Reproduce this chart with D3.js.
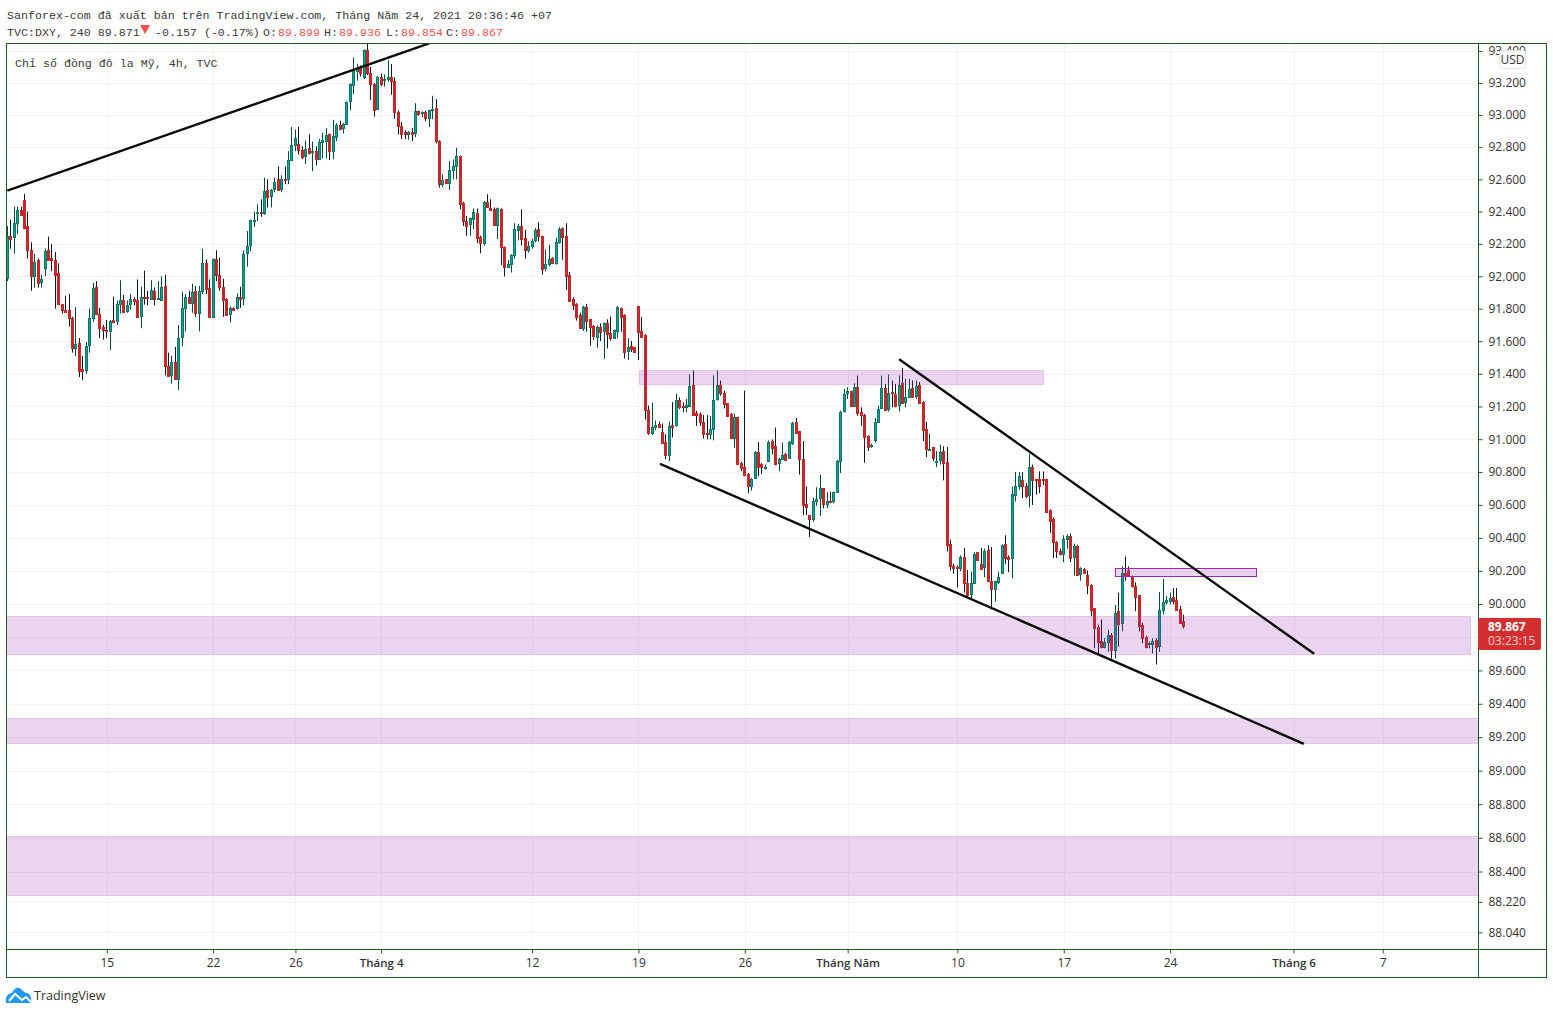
<!DOCTYPE html>
<html>
<head>
<meta charset="utf-8">
<script src="https://cdn.jsdelivr.net/npm/d3@7"></script>
<style>
body { margin: 0; background: #fff; }
svg { display: block; }
.mono { font-family: "Liberation Mono", monospace; font-size: 11.65px; fill: #3a3a3a; }
.axis text { font-family: "Open Sans", sans-serif; font-size: 12px; fill: #333; }
</style>
</head>
<body>
<svg id="chart" width="1553" height="1014"></svg>
<script>
const marchBars = [
[91.99,92.31,91.97,92.25],[92.25,92.35,92.17,92.23],[92.24,92.43,92.14,92.33],[92.33,92.43,92.26,92.41],[92.41,92.43,92.38,92.38],
[92.47,92.51,92.29,92.30],[92.31,92.40,92.11,92.16],[92.16,92.21,91.91,92.00],[92.00,92.14,91.93,92.09],[92.10,92.11,91.93,91.96],
[91.965,92.01,91.93,91.98],[92.05,92.17,92.00,92.155],[92.16,92.245,92.10,92.10],[92.11,92.20,92.03,92.10],[92.10,92.15,91.80,92.01],
[92.02,92.08,91.83,91.83],[91.83,91.83,91.77,91.79],[91.79,91.88,91.775,91.78],[91.79,91.89,91.69,91.74],[91.745,91.75,91.53,91.56],
[91.56,91.81,91.51,91.585],[91.59,91.62,91.38,91.42],[91.43,91.51,91.36,91.42],[91.425,91.595,91.40,91.57],[91.575,91.80,91.53,91.74],
[91.74,91.96,91.72,91.93],[91.935,91.97,91.76,91.77],[91.77,91.805,91.62,91.68],[91.69,91.70,91.61,91.67],[91.67,91.73,91.62,91.66],
[91.66,91.73,91.545,91.725],[91.73,91.875,91.71,91.72],[91.725,91.85,91.70,91.83],[91.83,91.975,91.77,91.855],[91.855,91.885,91.775,91.78],
[91.785,91.85,91.775,91.82],[91.83,91.89,91.795,91.86],[91.86,91.87,91.82,91.85],[91.855,91.98,91.745,91.75],[91.755,91.935,91.68,91.87],
[91.875,92.035,91.825,91.865],[91.875,91.91,91.82,91.87],[91.86,91.975,91.855,91.915],[91.91,91.93,91.82,91.86],[91.86,91.97,91.855,91.865],
[91.855,92.00,91.85,91.935],[91.94,92.01,91.39,91.445],[91.45,91.53,91.385,91.385],[91.395,91.51,91.34,91.475],[91.475,91.565,91.365,91.37],
[91.37,91.70,91.30,91.62],[91.625,91.905,91.57,91.805],[91.805,91.89,91.66,91.87],[91.87,91.91,91.83,91.835],[91.835,91.955,91.775,91.905],
[91.91,91.94,91.75,91.775],[91.775,91.94,91.66,91.91],[91.91,92.17,91.89,92.08],[92.08,92.105,91.89,91.92],[91.925,91.98,91.745,91.75],
[91.75,92.11,91.745,92.105],[92.105,92.16,91.97,92.01],[92.01,92.115,91.91,91.935],[91.935,91.985,91.75,91.855],[91.86,91.865,91.76,91.76],
[91.765,91.815,91.715,91.805],[91.805,91.81,91.785,91.79],[91.805,91.895,91.795,91.87],[91.87,91.935,91.805,91.86],[91.865,92.16,91.82,92.14],
[92.145,92.28,92.06,92.185],[92.19,92.35,92.155,92.345],[92.345,92.40,92.305,92.35],[92.39,92.445,92.34,92.40],[92.40,92.476,92.367,92.39],
[92.39,92.61,92.38,92.53],[92.535,92.60,92.425,92.49],[92.495,92.54,92.425,92.535],[92.54,92.61,92.52,92.585],[92.605,92.68,92.53,92.535],
[92.54,92.625,92.52,92.605],[92.605,92.68,92.57,92.595],[92.605,92.775,92.57,92.72],[92.72,92.925,92.72,92.815],[92.815,92.91,92.775,92.855],
[92.82,92.925,92.755,92.78],[92.785,92.805,92.725,92.74],[92.745,92.84,92.695,92.79],[92.795,92.88,92.755,92.765],[92.77,92.835,92.65,92.775],
[92.777,92.805,92.686,92.725],[92.725,92.85,92.725,92.835],[92.835,92.89,92.73,92.845],[92.837,92.92,92.73,92.876],[92.882,92.885,92.72,92.775],
[92.775,92.97,92.725,92.87],[92.862,92.95,92.837,92.938],[92.938,92.965,92.905,92.911],[92.917,92.95,92.885,92.946],[92.942,93.085,92.94,93.08],
[93.085,93.198,93.03,93.192],[93.19,93.36,93.13,93.274],[93.274,93.32,93.215,93.295],[93.303,93.31,93.24,93.262],[93.24,93.41,93.225,93.404],
[93.408,93.445,93.25,93.26],[93.26,93.30,93.095,93.196],[93.196,93.2,92.99,93.03]
];
const aprilBars = [
[93.035,93.243,93.03,93.237],[93.235,93.26,93.18,93.196],[93.216,93.254,93.177,93.227],[93.227,93.342,93.208,93.235],[93.235,93.318,93.126,93.21],
[93.21,93.235,92.977,93.016],[93.016,93.029,92.878,92.93],[92.932,92.957,92.85,92.88],[92.895,92.905,92.85,92.88],[92.88,92.90,92.847,92.895],
[92.895,92.92,92.837,92.88],[92.886,93.074,92.862,93.025],[93.025,93.029,92.996,93.004],[93.012,93.023,92.988,93.019],[93.019,93.027,92.96,92.981],
[92.979,93.033,92.924,93.031],[93.029,93.12,92.975,93.037],[93.043,93.099,92.823,92.837],[92.839,92.843,92.548,92.571],[92.571,92.631,92.553,92.598],
[92.60,92.60,92.575,92.577],[92.577,92.713,92.534,92.66],[92.658,92.724,92.60,92.685],[92.682,92.796,92.60,92.746],[92.746,92.748,92.414,92.447],
[92.45,92.46,92.311,92.342],[92.344,92.373,92.25,92.311],[92.322,92.363,92.25,92.357],[92.353,92.419,92.29,92.398],[92.394,92.419,92.204,92.235],
[92.245,92.25,92.142,92.204],[92.204,92.466,92.188,92.462],[92.462,92.507,92.425,92.429],[92.425,92.476,92.404,92.408],[92.414,92.425,92.311,92.317],
[92.317,92.425,92.229,92.419],[92.416,92.42,92.07,92.178],[92.18,92.184,91.999,92.06],[92.06,92.10,92.054,92.077],[92.073,92.136,92.023,92.132],
[92.13,92.328,92.108,92.293],[92.287,92.324,92.221,92.311],[92.311,92.414,92.19,92.231],[92.237,92.287,92.108,92.163],[92.163,92.215,92.147,92.188],
[92.188,92.231,92.17,92.219],[92.221,92.297,92.209,92.287],[92.293,92.334,92.215,92.246],[92.25,92.25,92.009,92.046],[92.052,92.167,92.03,92.077],
[92.077,92.194,92.06,92.108],[92.114,92.118,92.077,92.081],[92.079,92.239,92.071,92.213],[92.209,92.303,92.20,92.293],[92.297,92.301,92.102,92.241],
[92.25,92.328,91.916,92.003],[92.009,92.027,91.848,91.85],[91.861,91.871,91.793,91.824],[91.83,91.834,91.727,91.752],[91.762,91.776,91.682,91.682],
[91.682,91.818,91.663,91.811],[91.811,91.83,91.659,91.727],[91.735,91.735,91.571,91.69],[91.694,91.70,91.608,91.632],[91.628,91.696,91.56,91.688],
[91.688,91.71,91.601,91.659],[91.663,91.715,91.492,91.71],[91.71,91.735,91.556,91.645],[91.649,91.752,91.604,91.62],[91.62,91.673,91.614,91.667],
[91.665,91.818,91.618,91.811],[91.805,91.807,91.659,91.75],[91.76,91.766,91.494,91.536],[91.54,91.618,91.484,91.564],[91.571,91.602,91.534,91.552],
[91.562,91.566,91.53,91.534],[91.818,91.818,91.484,91.659],[91.661,91.748,91.622,91.626],[91.636,91.643,91.12,91.177],[91.18,91.206,91.027,91.036],
[91.036,91.225,91.027,91.077],[91.077,91.114,91.056,91.089],[91.093,91.108,91.068,91.077],[91.044,91.097,90.974,90.974],[90.982,91.031,90.877,90.906],
[90.906,91.108,90.867,91.081],[91.089,91.227,91.011,91.077],[91.085,91.278,91.077,91.241],[91.24,91.256,91.184,91.195],[91.20,91.225,91.164,91.195],
[91.195,91.246,91.164,91.209],[91.205,91.396,91.205,91.328],[91.334,91.42,91.143,91.15],[91.162,91.174,91.082,91.147],[91.154,91.164,91.082,91.106],
[91.106,91.147,91.004,91.034],[91.039,91.147,90.999,91.034],[91.034,91.143,90.999,91.061],[91.063,91.39,90.993,91.24],[91.244,91.42,91.236,91.334],
[91.334,91.359,91.266,91.283],[91.283,91.297,91.188,91.213],[91.221,91.221,91.137,91.143],[91.154,91.16,91.004,91.008],[91.01,91.158,90.948,91.137],
[91.137,91.137,90.846,90.85],[90.858,90.862,90.805,90.825],[90.829,91.297,90.774,90.784],[90.79,90.794,90.671,90.718],[90.718,90.763,90.687,90.759],
[90.763,90.928,90.763,90.922],[90.922,90.983,90.774,90.829],[90.846,90.856,90.788,90.829],[90.829,90.846,90.815,90.833],[90.87,90.993,90.866,90.983],
[90.989,90.999,90.907,90.944],[90.958,91.071,90.841,90.85],[90.856,90.887,90.805,90.882],[90.88,90.979,90.876,90.901],[90.907,90.917,90.866,90.872],
[90.887,90.989,90.882,90.981],[90.977,91.106,90.965,91.102],[91.104,91.129,91.034,91.041],[91.051,91.051,90.784,90.882],[90.882,90.989,90.538,90.597],
[90.605,90.712,90.538,90.585],[90.538,90.538,90.404,90.515],[90.517,90.644,90.497,90.626],[90.626,90.708,90.595,90.638],[90.64,90.784,90.533,90.70],
[90.70,90.702,90.579,90.603],[90.603,90.677,90.579,90.624],[90.624,90.681,90.61,90.616],[90.624,90.681,90.61,90.679],[90.679,90.874,90.677,90.866],
[90.87,91.174,90.794,91.168]
];
const mayBars = [
[91.17,91.307,91.164,91.277],[91.281,91.318,91.246,91.295],[91.295,91.297,91.201,91.203],[91.205,91.342,91.201,91.32],[91.322,91.39,91.143,91.158],
[91.166,91.195,91.082,91.147],[91.15,91.154,90.856,91.016],[91.02,91.024,90.928,90.954],[90.958,90.973,90.948,90.963],[90.997,91.129,90.979,91.106],
[91.108,91.205,91.102,91.186],[91.188,91.39,91.184,91.314],[91.314,91.338,91.174,91.178],[91.182,91.396,91.17,91.283],[91.289,91.359,91.195,91.281],
[91.279,91.338,91.195,91.203],[91.207,91.39,91.17,91.334],[91.342,91.437,91.219,91.223],[91.225,91.369,91.195,91.26],[91.26,91.369,91.256,91.307],
[91.312,91.359,91.252,91.256],[91.266,91.359,91.246,91.328],[91.334,91.349,91.215,91.221],[91.227,91.232,90.989,91.055],[91.061,91.106,90.891,90.938],
[90.938,91.034,90.928,90.942],[90.95,90.952,90.866,90.887],[90.866,90.928,90.829,90.87],[90.876,90.967,90.845,90.925],[90.929,90.957,90.749,90.855],
[90.861,90.953,90.318,90.355],[90.365,90.39,90.202,90.229],[90.231,90.243,90.182,90.22],[90.224,90.233,90.10,90.216],[90.216,90.294,90.198,90.286],
[90.286,90.339,90.069,90.126],[90.126,90.206,90.039,90.057],[90.063,90.196,90.029,90.126],[90.124,90.314,90.12,90.304],[90.312,90.314,90.267,90.269],
[90.239,90.339,90.212,90.214],[90.222,90.335,90.161,90.322],[90.329,90.355,90.131,90.137],[90.139,90.345,89.967,90.088],[90.088,90.141,90.014,90.137],
[90.135,90.196,90.12,90.165],[90.186,90.361,90.182,90.359],[90.361,90.416,90.243,90.277],[90.286,90.294,90.192,90.271],[90.277,90.712,90.155,90.665],
[90.663,90.80,90.62,90.714],[90.712,90.80,90.692,90.778],[90.751,90.80,90.641,90.712],[90.716,90.733,90.641,90.657],[90.661,90.912,90.584,90.831],
[90.831,90.845,90.60,90.753],[90.757,90.757,90.661,90.749],[90.757,90.804,90.671,90.718],[90.759,90.804,90.722,90.753],[90.757,90.759,90.553,90.559],
[90.567,90.573,90.431,90.504],[90.512,90.524,90.278,90.376],[90.378,90.38,90.278,90.318],[90.322,90.335,90.294,90.304],[90.302,90.416,90.253,90.392],
[90.392,90.422,90.335,90.414],[90.414,90.427,90.253,90.278],[90.284,90.365,90.171,90.349],[90.353,90.359,90.171,90.175],[90.18,90.222,90.141,90.218],
[90.212,90.218,90.182,90.186],[90.175,90.202,90.059,90.112],[90.114,90.12,89.927,89.965],[89.973,89.973,89.733,89.855],[89.859,89.875,89.692,89.773],
[89.777,89.906,89.733,89.739],[89.739,89.794,89.733,89.771],[89.769,89.845,89.712,89.814],[89.814,89.824,89.671,89.722],[89.72,89.994,89.671,89.947],
[89.955,90.069,89.743,89.882],[89.886,90.227,89.835,90.188],[90.188,90.288,90.141,90.169],[90.206,90.227,90.171,90.169],[90.167,90.171,90.10,90.106],
[90.108,90.131,89.957,90.045],[90.053,90.055,89.835,89.865],[89.875,89.886,89.763,89.794],[89.802,89.808,89.733,89.739],[89.763,89.773,89.733,89.767],
[89.759,89.794,89.702,89.777],[89.784,89.794,89.635,89.739],[89.745,90.073,89.712,89.965],[89.965,90.151,89.937,90.01],[90.012,90.049,89.998,90.022],
[90.02,90.069,89.998,90.037],[90.041,90.096,89.998,90.018],[90.022,90.096,89.961,89.963],[89.971,89.988,89.88,89.884],[89.899,89.936,89.854,89.867]
];
const priceTicks = [93.4,93.2,93,92.8,92.6,92.4,92.2,92,91.8,91.6,91.4,91.2,91,90.8,90.6,90.4,90.2,90,89.8,89.6,89.4,89.2,89,88.8,88.6,88.4,88.22,88.04];
const dateTickBars = [29,60,84,109,153,184,215,245,277,308,339,375,401];
const dateTickLabels = ['15','22','26','Tháng 4','12','19','26','Tháng Năm','10','17','24','Tháng 6','7'];
// zones: first bar, last bar, top price, bottom price
const softZones = [
  [184.2,302,91.425,91.34],
  [-5,426.5,89.925,89.695],
  [-5,445,89.315,89.165],
  [-5,445,88.61,88.26]
];
const strongZones = [[323,364,90.22,90.17]];
// trend lines: bar, price, bar, price
const trendLines = [
  [0,92.53,123,93.448],
  [260,91.49,381,89.70],
  [190.3,90.85,378,89.16]
];
const lastClose = 89.867;

const width = 1553, height = 1014;
const plotLeft = 6.5, plotRight = 1478.5, plotTop = 43.5, plotBottom = 949.5, frameRight = 1546.5, frameBottom = 977.5;
const frameColor = '#1b5e20';

const bars = marchBars.concat(aprilBars, mayBars);
const x = d3.scaleLinear().domain([0, 343]).range([7.3, 1183.8]);
const y = d3.scaleLog().domain([88.4, 93.2]).range([871.5, 83]);

const svg = d3.select('#chart');
const defs = svg.append('defs');
defs.append('clipPath').attr('id', 'plot').append('rect')
    .attr('x', plotLeft + 0.5).attr('y', plotTop + 0.5)
    .attr('width', plotRight - plotLeft - 1).attr('height', plotBottom - plotTop - 1);

// grid
const grid = svg.append('g').attr('stroke', '#f3f3f3').attr('stroke-width', 1);
grid.selectAll('.h').data(priceTicks).enter().append('line')
    .attr('x1', plotLeft).attr('x2', plotRight)
    .attr('y1', d => Math.round(y(d)) + 0.5).attr('y2', d => Math.round(y(d)) + 0.5);
grid.selectAll('.v').data(dateTickBars).enter().append('line')
    .attr('y1', plotTop).attr('y2', plotBottom)
    .attr('x1', d => Math.round(x(d)) + 0.5).attr('x2', d => Math.round(x(d)) + 0.5);

// candles
const plot = svg.append('g').attr('clip-path', 'url(#plot)');
const candle = plot.selectAll('.candle').data(bars).enter().append('g');
candle.append('line')
    .attr('x1', (d, i) => Math.floor(x(i)) + 0.5).attr('x2', (d, i) => Math.floor(x(i)) + 0.5)
    .attr('y1', d => y(d[1])).attr('y2', d => y(d[2]))
    .attr('stroke', d => d[3] >= d[0] ? '#004d40' : '#131722');
candle.append('rect')
    .attr('x', (d, i) => Math.floor(x(i)) - 0.5)
    .attr('width', 2)
    .attr('y', d => Math.round(y(Math.max(d[0], d[3]))) + 0.5)
    .attr('height', d => Math.max(1, Math.round(y(Math.min(d[0], d[3]))) - Math.round(y(Math.max(d[0], d[3])))))
    .attr('fill', d => d[3] >= d[0] ? '#1f9e8c' : '#c62828')
    .attr('stroke', d => d[3] >= d[0] ? '#00796b' : '#c62828');

// zones sit above the candles
function drawZones(data, stroke) {
  plot.selectAll(null).data(data).enter().append('rect')
      .attr('x', d => Math.round(x(d[0])) + 0.5)
      .attr('width', d => Math.round(x(d[1]) - x(d[0])))
      .attr('y', d => Math.round(y(d[2])) + 0.5)
      .attr('height', d => Math.round(y(d[3]) - y(d[2])))
      .attr('fill', 'rgba(156,39,176,0.2)')
      .attr('stroke', stroke);
}
drawZones(softZones, 'rgba(156,39,176,0.2)');
drawZones(strongZones, '#9c27b0');

plot.selectAll('.trend').data(trendLines).enter().append('line')
    .attr('x1', d => x(d[0])).attr('y1', d => y(d[1]))
    .attr('x2', d => x(d[2])).attr('y2', d => y(d[3]))
    .attr('stroke', '#0b0b0b').attr('stroke-width', 2.4);

// frame
svg.append('rect').attr('x', plotLeft).attr('y', plotTop)
    .attr('width', frameRight - plotLeft).attr('height', frameBottom - plotTop)
    .attr('fill', 'none').attr('stroke', frameColor);
svg.append('line').attr('x1', plotRight).attr('x2', plotRight).attr('y1', plotTop).attr('y2', frameBottom).attr('stroke', frameColor);
svg.append('line').attr('x1', plotLeft).attr('x2', frameRight).attr('y1', plotBottom).attr('y2', plotBottom).attr('stroke', frameColor);

// axes
const yAxis = svg.append('g').attr('class', 'axis').attr('transform', `translate(${plotRight},0)`)
    .call(d3.axisRight(y).tickValues(priceTicks).tickFormat(d3.format('.3f')).tickSize(4).tickPadding(6));
const xAxis = svg.append('g').attr('class', 'axis').attr('transform', `translate(0,${plotBottom})`)
    .call(d3.axisBottom(x).tickValues(dateTickBars).tickFormat((d, i) => dateTickLabels[i]).tickSize(4).tickPadding(5));
yAxis.select('.domain').remove();
xAxis.select('.domain').remove();
yAxis.selectAll('.tick line').attr('stroke', frameColor);
xAxis.selectAll('.tick line').attr('stroke', frameColor);
xAxis.selectAll('text').filter(d => d === 109 || d === 245 || d === 375)
    .style('font-weight', 600).style('font-size', '11.5px');

// top tick label is cut by the frame
svg.append('rect').attr('x', 1486).attr('y', 36).attr('width', 50).attr('height', 7).attr('fill', '#fff');

// USD badge
svg.append('rect').attr('x', 1499.5).attr('y', 50.5).attr('width', 26).attr('height', 18).attr('rx', 3)
    .attr('fill', '#fff').attr('stroke', '#e0e3eb');
svg.append('text').attr('x', 1512.5).attr('y', 64).attr('text-anchor', 'middle')
    .style('font-family', '"Open Sans", sans-serif').style('font-size', '12px').attr('fill', '#333').text('USD');

// last price tag
const tagTop = Math.round(y(lastClose)) - 8;
svg.append('rect').attr('x', 1478).attr('y', tagTop).attr('width', 63).attr('height', 32).attr('rx', 2).attr('fill', '#d32f2f');
svg.append('text').attr('x', 1488).attr('y', tagTop + 13)
    .style('font-family', '"Open Sans", sans-serif').style('font-size', '12px').style('font-weight', 700)
    .attr('fill', '#fff').text(d3.format('.3f')(lastClose));
svg.append('text').attr('x', 1488).attr('y', tagTop + 27)
    .style('font-family', '"Open Sans", sans-serif').style('font-size', '12px')
    .attr('fill', '#f8cfcf').text('03:23:15');

// header
const headerColor = '#ef5350';
const headerParts = [
  [7, 'TVC:DXY, 240 89.871', null],
  [155, '-0.157 (-0.17%)', null],
  [263, 'O:', null], [278, '89.899', headerColor],
  [324, 'H:', null], [339, '89.936', headerColor],
  [386, 'L:', null], [401, '89.854', headerColor],
  [446, 'C:', null], [461, '89.867', headerColor]
];
svg.append('text').attr('class', 'mono').attr('x', 7).attr('y', 19)
    .text('Sanforex-com đã xuất bản trên TradingView.com, Tháng Năm 24, 2021 20:36:46 +07');
svg.selectAll('.head').data(headerParts).enter().append('text').attr('class', 'mono')
    .attr('x', d => d[0]).attr('y', 35.5)
    .style('fill', d => d[2])
    .text(d => d[1]);
svg.append('path').attr('d', 'M140,25L150,25L145,34Z').attr('fill', headerColor);
svg.append('text').attr('class', 'mono').attr('x', 15).attr('y', 67).text('Chỉ số đồng đô la Mỹ, 4h, TVC');

// logo
const logo = svg.append('g').attr('transform', 'translate(6,987)');
logo.append('path')
    .attr('d', 'M0,16 C-1,10 2,6 6,6 C8,1 13,-1 16,3 C18,5 19,6 21,6 C25,7 26,13 25,16 Z')
    .attr('fill', '#2196f3');
logo.append('path').attr('d', 'M3,14 L9,7 L16,13 L20,10 L25,15')
    .attr('fill', 'none').attr('stroke', '#fff').attr('stroke-width', 2);
svg.append('text').attr('x', 34).attr('y', 1000)
    .style('font-family', '"Open Sans", sans-serif').style('font-size', '12.5px')
    .attr('fill', '#333').text('TradingView');
</script>
</body>
</html>
